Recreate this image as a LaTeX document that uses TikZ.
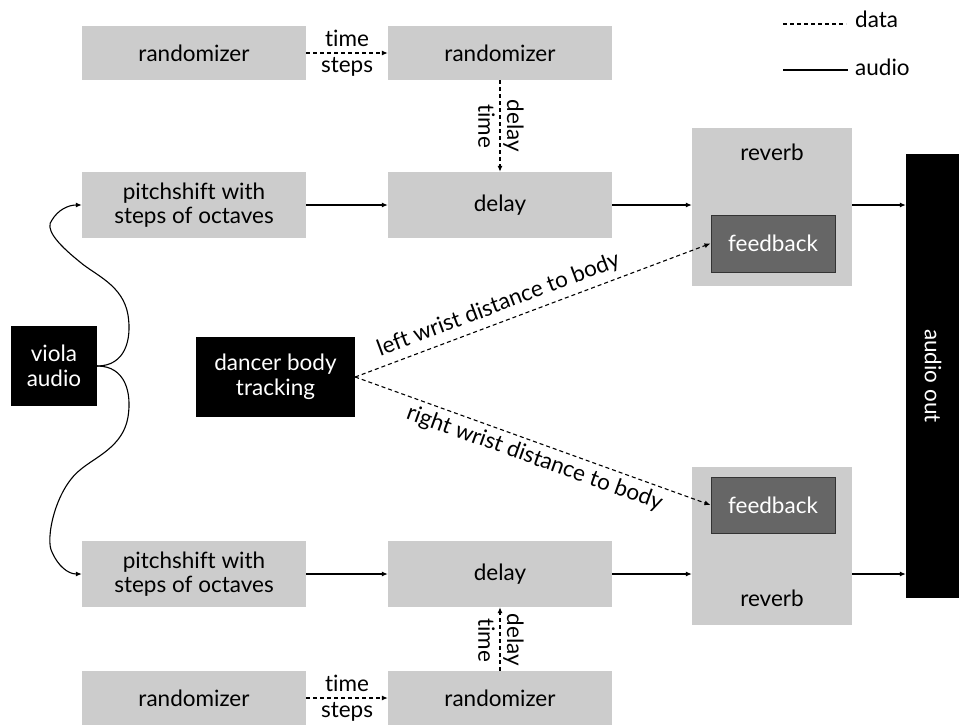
\documentclass[tikz,border=0pt]{standalone}
\usepackage{fontspec}
\setmainfont{Lato}[Ligatures={NoCommon,NoRare,NoDiscretionary}]
\usetikzlibrary{arrows.meta}
\definecolor{boxgray}{HTML}{CCCCCC}
\definecolor{fbgray}{HTML}{666666}
\definecolor{fbline}{HTML}{333333}
\begin{document}
\begin{tikzpicture}[x=1pt,y=-1pt,
  every node/.style={font=\fontsize{22.5}{24.5}\selectfont},
  gbox/.style={fill=boxgray, draw=none, inner sep=0pt, align=center},
  bbox/.style={fill=black, text=white, draw=none, inner sep=0pt, align=center},
  fbbox/.style={fill=fbgray, draw=fbline, line width=1pt, text=white, inner sep=0pt, align=center},
  audioline/.style={line width=1.1pt, -{Latex[length=6pt,width=5pt]}},
  dataline/.style={line width=1.1pt, dash pattern=on 4pt off 3pt, -{Latex[length=6pt,width=5pt]}},
  lbl/.style={font=\fontsize{22.5}{24}\selectfont, inner sep=1pt}
]
\useasboundingbox (0,0) rectangle (959,724);
% boxes
\node[gbox, minimum width=224pt, minimum height=54pt] (r1) at (194,53) {randomizer};
\node[gbox, minimum width=224pt, minimum height=54pt] (r2) at (500,53) {randomizer};
\node[gbox, minimum width=224pt, minimum height=66pt] (p1) at (194,205) {pitchshift with\\steps of octaves};
\node[gbox, minimum width=224pt, minimum height=66pt] (d1) at (500,205) {delay};
\node[gbox, minimum width=160pt, minimum height=158pt] (rv1) at (772,207) {};
\node (rv1t) at (772,152) {reverb};
\node[fbbox, minimum width=124pt, minimum height=57pt] (fb1) at (773,243.5) {feedback};
\node[bbox, minimum width=54pt, minimum height=444pt] (out) at (933,376) {};
\node[rotate=-90, text=white] (outt) at (933,376) {audio out};
\node[bbox, minimum width=86pt, minimum height=80pt] (viola) at (54,366) {viola\\audio};
\node[bbox, minimum width=159pt, minimum height=80pt] (dancer) at (275.5,377) {dancer body\\tracking};
\node[gbox, minimum width=224pt, minimum height=66pt] (p2) at (194,574) {pitchshift with\\steps of octaves};
\node[gbox, minimum width=224pt, minimum height=66pt] (d2) at (500,574) {delay};
\node[gbox, minimum width=160pt, minimum height=158pt] (rv2) at (772,546) {};
\node (rv2t) at (772,598) {reverb};
\node[fbbox, minimum width=124pt, minimum height=56pt] (fb2) at (773,505) {feedback};
\node[gbox, minimum width=224pt, minimum height=54pt] (r3) at (194,698) {randomizer};
\node[gbox, minimum width=224pt, minimum height=54pt] (r4) at (500,698) {randomizer};
% data connectors
\draw[dataline] (r1.east) -- (r2.west);
\node[lbl, anchor=south] (ts1a) at (347,48) {time};
\node[lbl, anchor=north] (ts1b) at (347,56) {steps};
\draw[dataline] (r2.south) -- (d1.north);
\node[lbl, rotate=-90, anchor=south] (dt1a) at (502,126) {delay};
\node[lbl, rotate=-90, anchor=north] (dt1b) at (496,126) {time};
\draw[dataline] (r3.east) -- (r4.west);
\node[lbl, anchor=south] (ts2a) at (347,693) {time};
\node[lbl, anchor=north] (ts2b) at (347,701) {steps};
\draw[dataline] (r4.north) -- (d2.south);
\node[lbl, rotate=-90, anchor=south] (dt2a) at (502,640) {delay};
\node[lbl, rotate=-90, anchor=north] (dt2b) at (496,640) {time};
\draw[dataline] (dancer.east) -- node[lbl, pos=0.42, sloped, above, inner sep=6pt] {left wrist distance to body} (fb1.west);
\draw[dataline] (dancer.east) -- node[lbl, pos=0.52, sloped, below, inner sep=5pt] {right wrist distance to body} (fb2.west);
% audio connectors
\draw[audioline] (p1.east) -- (d1.west);
\draw[audioline] (d1.east) -- (d1.east -| rv1.west);
\draw[audioline] (d1.east -| rv1.east) -- (d1.east -| out.west);
\draw[audioline] (p2.east) -- (d2.west);
\draw[audioline] (d2.east) -- (d2.east -| rv2.west);
\draw[audioline] (d2.east -| rv2.east) -- (d2.east -| out.west);
\draw[audioline] (viola.east) .. controls (125,366) and (132,340) .. (128,315)
  .. controls (123,285) and (95,275) .. (80,262)
  .. controls (55,242) and (45,228) .. (52,220)
  .. controls (58,210) and (68,205) .. (p1.west);
\draw[audioline] (viola.east) .. controls (125,366) and (132,392) .. (128,417)
  .. controls (123,447) and (95,457) .. (80,470)
  .. controls (55,490) and (45,540) .. (52,552)
  .. controls (58,566) and (68,574) .. (p2.west);
% legend
\coordinate (ld1) at (783,24);
\coordinate (ld2) at (846,24);
\draw[line width=1.1pt, dash pattern=on 4pt off 3pt] (ld1) -- (ld2);
\node[anchor=west, inner sep=0pt] (ldt) at (855,19) {data};
\coordinate (la1) at (783,70);
\coordinate (la2) at (848,70);
\draw[line width=1.1pt] (la1) -- (la2);
\node[anchor=west, inner sep=0pt] (lat) at (855,67) {audio};
\end{tikzpicture}
\end{document}
